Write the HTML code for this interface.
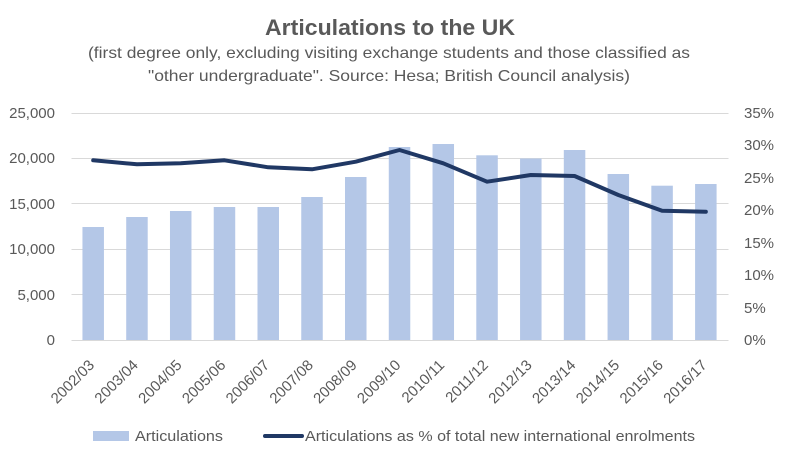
<!DOCTYPE html>
<html><head><meta charset="utf-8"><style>
html,body{margin:0;padding:0;background:#fff;}
svg{display:block;}
text{font-family:"Liberation Sans",sans-serif;fill:#595959;}
</style></head><body>
<svg width="785" height="461" viewBox="0 0 785 461" xmlns="http://www.w3.org/2000/svg">
<rect width="785" height="461" fill="#fff"/>
<text x="390" y="35" text-anchor="middle" font-size="22" font-weight="bold" textLength="250" lengthAdjust="spacingAndGlyphs">Articulations to the UK</text>
<text x="389" y="58" text-anchor="middle" font-size="16" textLength="602" lengthAdjust="spacingAndGlyphs">(first degree only, excluding visiting exchange students and those classified as</text>
<text x="389" y="81" text-anchor="middle" font-size="16" textLength="482" lengthAdjust="spacingAndGlyphs">"other undergraduate". Source: Hesa; British Council analysis)</text>
<g stroke="#d9d9d9" stroke-width="1">
<line x1="71.5" x2="728.5" y1="113.5" y2="113.5"/>
<line x1="71.5" x2="728.5" y1="158.5" y2="158.5"/>
<line x1="71.5" x2="728.5" y1="203.5" y2="203.5"/>
<line x1="71.5" x2="728.5" y1="249.5" y2="249.5"/>
<line x1="71.5" x2="728.5" y1="294.5" y2="294.5"/>
<line x1="71.5" x2="728.5" y1="340.5" y2="340.5"/>
</g>
<g font-size="15" text-anchor="end">
<text x="55" y="118">25,000</text>
<text x="55" y="163">20,000</text>
<text x="55" y="209">15,000</text>
<text x="55" y="254">10,000</text>
<text x="55" y="300">5,000</text>
<text x="55" y="345">0</text>
</g>
<g font-size="15">
<text x="744" y="118">35%</text>
<text x="744" y="150">30%</text>
<text x="744" y="183">25%</text>
<text x="744" y="215">20%</text>
<text x="744" y="248">15%</text>
<text x="744" y="280">10%</text>
<text x="744" y="313">5%</text>
<text x="744" y="345">0%</text>
</g>
<g fill="#b4c7e7">
<rect x="82.45" y="227" width="21.5" height="113"/>
<rect x="126.21" y="217" width="21.5" height="123"/>
<rect x="169.97" y="211" width="21.5" height="129"/>
<rect x="213.73" y="207" width="21.5" height="133"/>
<rect x="257.49" y="207" width="21.5" height="133"/>
<rect x="301.25" y="197" width="21.5" height="143"/>
<rect x="345.01" y="177" width="21.5" height="163"/>
<rect x="388.77" y="147" width="21.5" height="193"/>
<rect x="432.53" y="144" width="21.5" height="196"/>
<rect x="476.29" y="155.3" width="21.5" height="184.7"/>
<rect x="520.05" y="158.5" width="21.5" height="181.5"/>
<rect x="563.81" y="150" width="21.5" height="190"/>
<rect x="607.57" y="174" width="21.5" height="166"/>
<rect x="651.33" y="185.7" width="21.5" height="154.3"/>
<rect x="695.09" y="184" width="21.5" height="156"/>
</g>
<polyline fill="none" stroke="#203864" stroke-width="4" stroke-linejoin="round" stroke-linecap="round" points="93.2,160.3 136.96,164.3 180.72,163.3 224.48,160.3 268.24,167.3 312,169.3 355.76,161.7 399.52,150 443.28,163.3 487.04,181.7 530.8,175 574.56,176 618.32,195 662.08,210.7 705.84,211.7"/>
<g font-size="15" text-anchor="end">
<text x="95.2" y="366" transform="rotate(-45 95.2 366)">2002/03</text>
<text x="138.96" y="366" transform="rotate(-45 138.96 366)">2003/04</text>
<text x="182.72" y="366" transform="rotate(-45 182.72 366)">2004/05</text>
<text x="226.48" y="366" transform="rotate(-45 226.48 366)">2005/06</text>
<text x="270.24" y="366" transform="rotate(-45 270.24 366)">2006/07</text>
<text x="314" y="366" transform="rotate(-45 314 366)">2007/08</text>
<text x="357.76" y="366" transform="rotate(-45 357.76 366)">2008/09</text>
<text x="401.52" y="366" transform="rotate(-45 401.52 366)">2009/10</text>
<text x="445.28" y="366" transform="rotate(-45 445.28 366)">2010/11</text>
<text x="489.04" y="366" transform="rotate(-45 489.04 366)">2011/12</text>
<text x="532.8" y="366" transform="rotate(-45 532.8 366)">2012/13</text>
<text x="576.56" y="366" transform="rotate(-45 576.56 366)">2013/14</text>
<text x="620.32" y="366" transform="rotate(-45 620.32 366)">2014/15</text>
<text x="664.08" y="366" transform="rotate(-45 664.08 366)">2015/16</text>
<text x="707.84" y="366" transform="rotate(-45 707.84 366)">2016/17</text>
</g>
<rect x="93" y="431" width="36" height="10" fill="#b4c7e7"/>
<text x="135" y="441" font-size="15" textLength="88" lengthAdjust="spacingAndGlyphs">Articulations</text>
<line x1="265" y1="436" x2="302" y2="436" stroke="#203864" stroke-width="4" stroke-linecap="round"/>
<text x="305" y="441" font-size="15" textLength="390" lengthAdjust="spacingAndGlyphs">Articulations as % of total new international enrolments</text>
</svg>
</body></html>
